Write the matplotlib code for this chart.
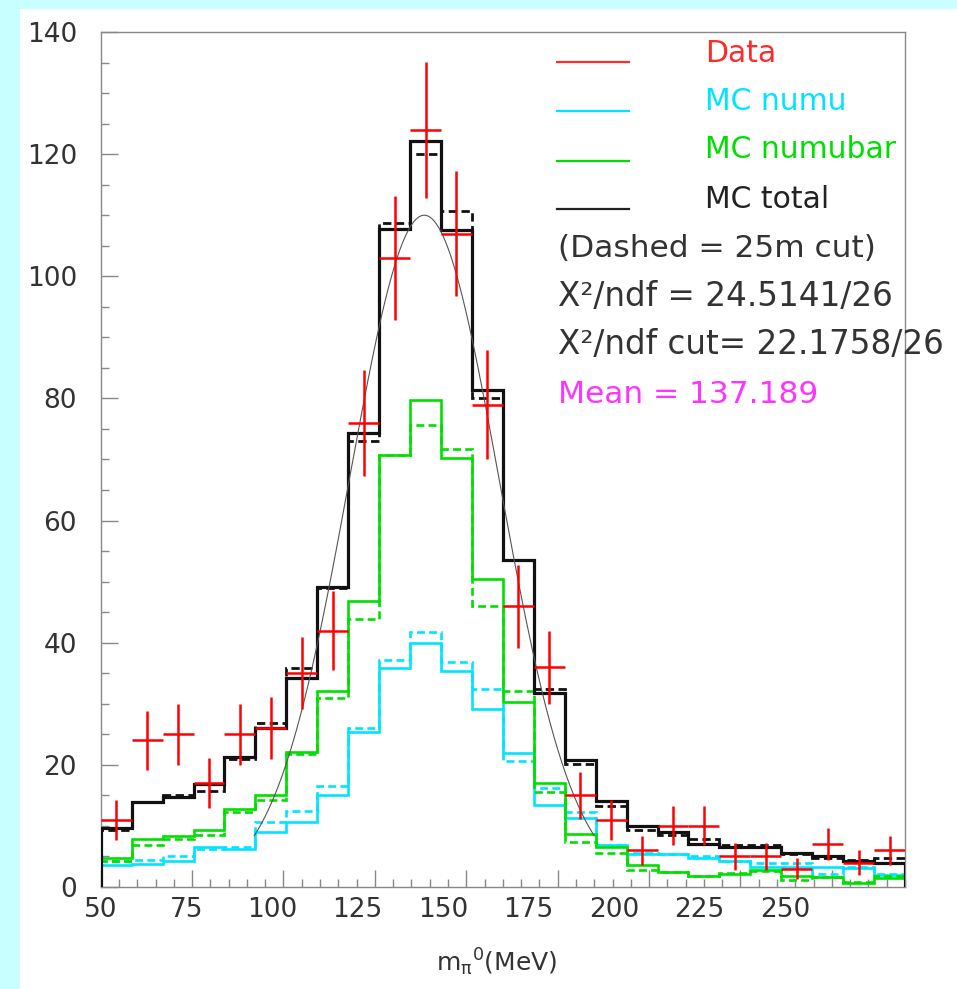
import numpy as np
import matplotlib
matplotlib.use("Agg")
import matplotlib.pyplot as plt
from matplotlib.patches import Rectangle
from matplotlib.ticker import MultipleLocator

# ---------------- data ----------------
x_lo, x_hi, n_bins = 50.0, 270.0, 26

data = [11, 24, 25, 17, 25, 26, 35, 42, 76, 103, 124, 107, 79, 46, 36, 15,
        11, 6, 10, 10, 5, 5, 3, 7, 4, 6]
data_err = [3.3, 4.9, 5.0, 4.1, 5.0, 5.1, 5.9, 6.5, 8.7, 10.1, 11.1, 10.3,
            8.9, 6.8, 6.0, 3.9, 3.3, 2.4, 3.2, 3.2, 2.2, 2.2, 1.7, 2.6, 2.0, 2.4]

mc_total = [9.6, 14.0, 14.8, 16.9, 21.3, 26.1, 34.3, 49.1, 74.3, 107.8, 122.2,
            107.6, 81.3, 53.5, 31.7, 20.8, 14.1, 10.0, 9.0, 7.0, 6.5, 6.6,
            5.6, 5.1, 4.2, 3.9]
mc_total_cut = [9.4, 14.0, 15.1, 15.8, 20.9, 26.8, 35.8, 49.0, 73.0, 108.8,
                120.0, 110.7, 80.0, 53.5, 32.5, 20.2, 13.2, 9.4, 8.5, 7.8, 6.8,
                6.9, 5.4, 4.7, 4.4, 4.7]

mc_numu = [3.6, 3.8, 4.3, 6.5, 6.2, 9.0, 10.6, 15.1, 25.4, 35.8, 39.9, 35.4,
           29.2, 21.9, 13.5, 11.3, 6.8, 5.4, 5.4, 4.7, 4.3, 3.2, 3.2, 3.2, 3.1, 2.0]
mc_numu_cut = [4.2, 4.5, 5.1, 6.3, 6.6, 10.7, 12.4, 16.5, 26.1, 37.1, 41.8,
               36.8, 32.5, 20.6, 16.2, 12.2, 6.9, 5.6, 5.4, 5.1, 4.3, 3.9, 3.9,
               2.2, 3.3, 2.2]

mc_numubar = [4.7, 7.9, 8.3, 9.3, 12.7, 15.0, 22.1, 32.1, 46.9, 70.7, 79.7,
              70.3, 50.4, 30.3, 17.1, 8.7, 6.5, 3.6, 2.5, 1.8, 2.2, 2.8, 1.8,
              1.7, 0.7, 1.5]
mc_numubar_cut = [4.2, 6.8, 7.8, 8.5, 12.3, 14.3, 21.7, 30.9, 43.9, 70.8, 75.6,
                  71.8, 46.0, 32.1, 15.5, 7.3, 5.5, 2.8, 2.4, 1.8, 2.3, 2.7, 1.1,
                  1.7, 0.8, 1.8]

# Gaussian fit parameters
fit_amp, fit_mean, fit_sigma = 110.0, 138.5, 20.5
fit_range = (92.0, 185.0)

x_tick_values = [50, 75, 100, 125, 150, 175, 200, 225, 250]
y_tick_values = [0, 20, 40, 60, 80, 100, 120, 140]

legend_entries = [("Data", "#ff2a2a"), ("MC numu", "#00e5ff"),
                  ("MC numubar", "#00e000"), ("MC total", "#222222")]
info_lines = [("(Dashed = 25m cut)", "#333333", 22.5),
              ("X\u00b2/ndf = 24.5141/26", "#333333", 23.5),
              ("X\u00b2/ndf cut= 22.1758/26", "#333333", 23.5),
              ("Mean = 137.189", "#ff33ff", 22.5)]

# ---------------- figure ----------------
W, H = 957, 989
fig = plt.figure(figsize=(W / 100, H / 100), dpi=100, facecolor="#c8ffff")
fig.patches.append(Rectangle((20 / W, 0), 1, 1 - 9 / H, transform=fig.transFigure,
                             facecolor="white", edgecolor="none", zorder=-10))

ax_l, ax_r, ax_b, ax_t = 100.7, 905.0, 887.0, 32.0
ax = fig.add_axes([ax_l / W, 1 - ax_b / H, (ax_r - ax_l) / W, (ax_b - ax_t) / H])
ax.set_facecolor("white")

edges = np.linspace(x_lo, x_hi, n_bins + 1)
centers = 0.5 * (edges[:-1] + edges[1:])
half_w = 0.5 * (edges[1] - edges[0])

cyan, green, red = "#00e5ff", "#00e000", "#ff0000"
dash = (0, (3.0, 1.6))

ax.stairs(mc_numu_cut, edges, color=cyan, lw=1.9, linestyle=dash, baseline=0, zorder=2)
ax.stairs(mc_numu, edges, color=cyan, lw=1.9, baseline=0, zorder=2)
ax.stairs(mc_numubar_cut, edges, color=green, lw=1.9, linestyle=dash, baseline=0, zorder=3)
ax.stairs(mc_numubar, edges, color=green, lw=1.9, baseline=0, zorder=3)
ax.stairs(mc_total_cut, edges, color="#111111", lw=2.0, linestyle=dash, baseline=0, zorder=4)
ax.stairs(mc_total, edges, color="#111111", lw=2.3, baseline=0, zorder=4)

xf = np.linspace(fit_range[0], fit_range[1], 300)
ax.plot(xf, fit_amp * np.exp(-0.5 * ((xf - fit_mean) / fit_sigma) ** 2),
        color="#555555", lw=0.8, zorder=5)

ax.errorbar(centers, data, yerr=data_err, xerr=half_w, fmt="none",
            ecolor=red, elinewidth=1.8, capsize=0, zorder=6)

ax.set_xlim(x_lo, x_hi)
ax.set_ylim(0, 140)

for s in ax.spines.values():
    s.set_color("#888888")
    s.set_linewidth(1.0)

ax.set_xticks(x_tick_values)
ax.set_yticks(y_tick_values)
ax.xaxis.set_minor_locator(MultipleLocator(5))
ax.yaxis.set_minor_locator(MultipleLocator(5))
ax.tick_params(which="major", direction="in", length=12, width=1, color="#888888")
ax.tick_params(which="minor", direction="in", length=6, width=1, color="#888888")
ax.tick_params(axis="y", labelsize=19, pad=17, labelcolor="#333333")
ax.set_xticklabels([])

# x tick labels (drawn slightly compressed as in the original)
for v in x_tick_values:
    xpos = x_lo + (v - x_lo) * 0.936
    ax.annotate(str(v), xy=(xpos, 0), xycoords=("data", "axes fraction"),
                xytext=(0, -7), textcoords="offset points", ha="center", va="top",
                fontsize=19, color="#333333")

ax.text(0.4927, -0.088, r"$\mathregular{m_{\pi}{}^{0}}$(MeV)", transform=ax.transAxes,
        ha="center", va="center", fontsize=18, color="#333333")

# legend
def ax_x(px):
    return (px - ax_l) / (ax_r - ax_l)

def ax_y(py):
    return (ax_b - py) / (ax_b - ax_t)

line_ys = [62.3, 111.0, 160.7, 209.3]
text_ys = [53.3, 101.7, 150.0, 199.3]
for (label, col), ly, ty in zip(legend_entries, line_ys, text_ys):
    ax.plot([ax_x(557), ax_x(629)], [ax_y(ly), ax_y(ly)], color=col, lw=1.6,
            transform=ax.transAxes, clip_on=False, zorder=7)
    ax.text(ax_x(705), ax_y(ty), label, color=col, fontsize=21.5, ha="left",
            va="center", transform=ax.transAxes, zorder=7)

info_ys = [248.3, 296.7, 345.0, 394.3]
for (label, col, fs), ty in zip(info_lines, info_ys):
    ax.text(ax_x(558), ax_y(ty), label, color=col, fontsize=fs, ha="left",
            va="center", transform=ax.transAxes, zorder=7)

fig.savefig("out.png", dpi=100, facecolor=fig.get_facecolor())
